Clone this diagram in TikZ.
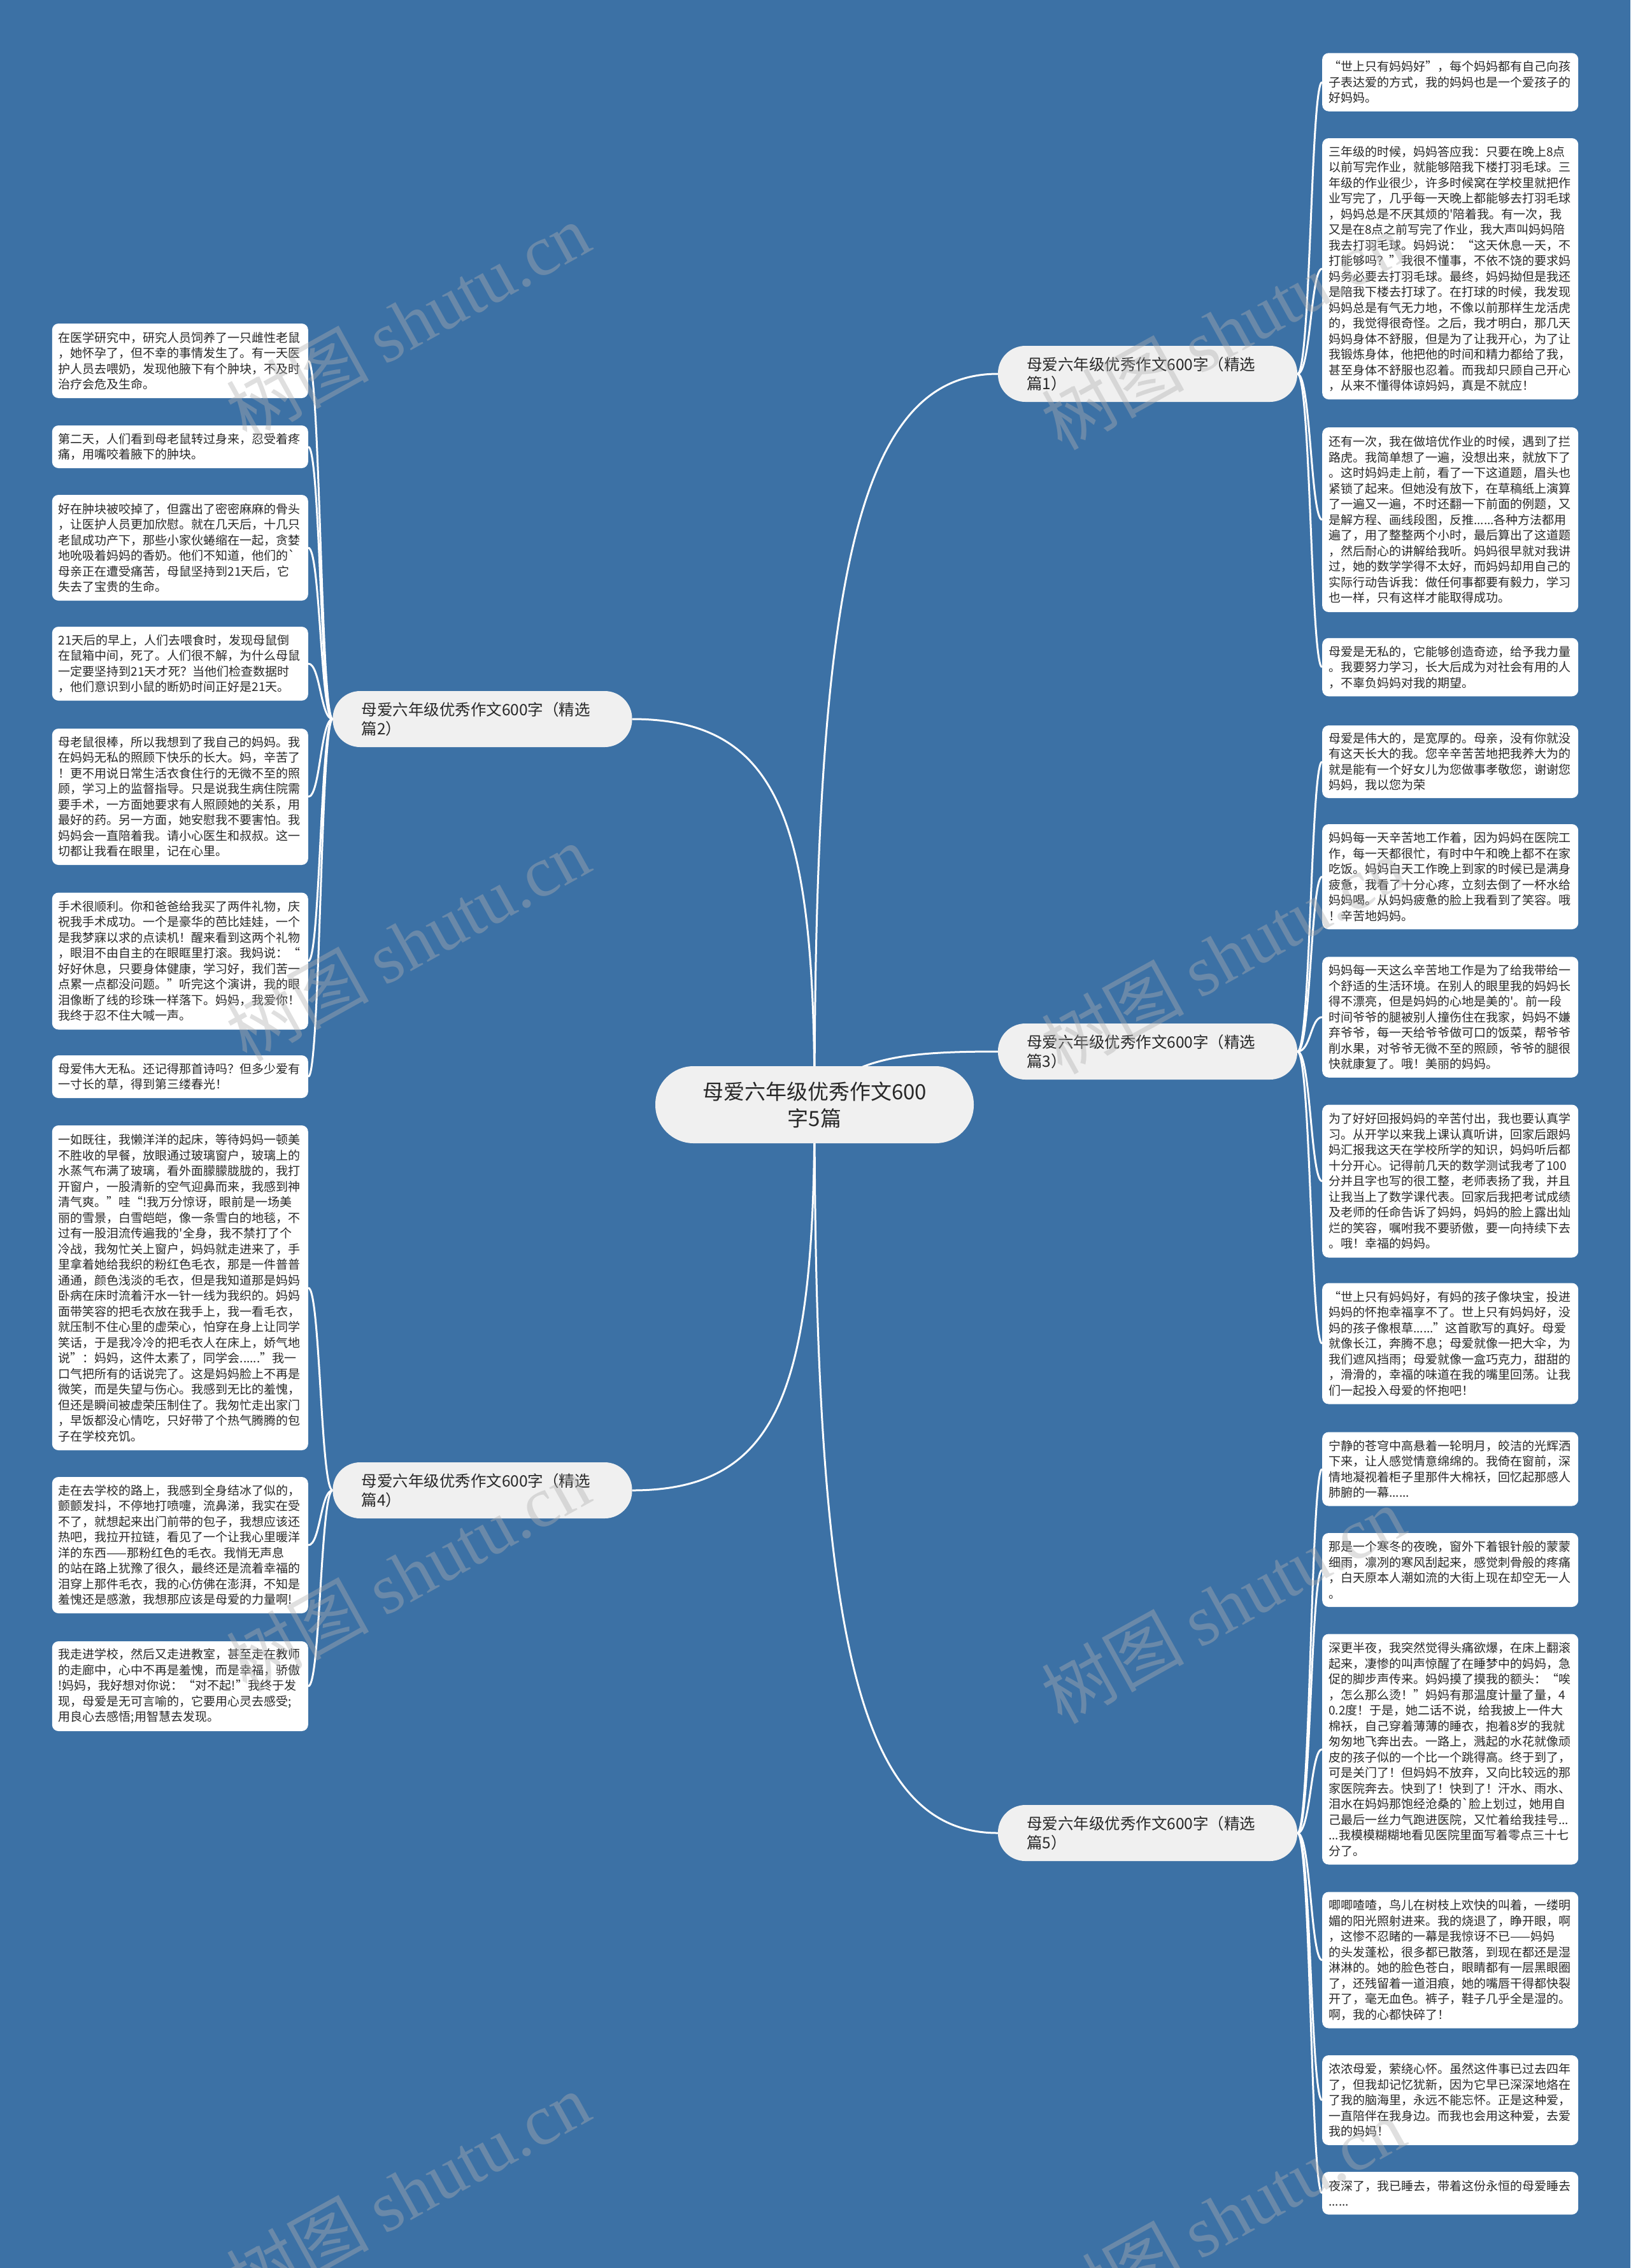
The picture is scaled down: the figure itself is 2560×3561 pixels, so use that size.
\documentclass[tikz,border=0pt]{standalone}
\usepackage{fontspec}
\newfontfamily\cjk{Noto Sans CJK SC}
\newfontfamily\wmserif{Liberation Serif}
\definecolor{bgblue}{RGB}{60,113,165}
\definecolor{nodegray}{RGB}{240,240,240}
\definecolor{txtc}{RGB}{40,40,40}
\definecolor{wmgray}{RGB}{175,175,175}
\pgfdeclarelayer{back}
\pgfdeclarelayer{lines}
\pgfsetlayers{back,lines,main}
\tikzset{
 leaf/.style={fill=white, rounded corners=10pt, text width=382pt, inner xsep=10pt, inner ysep=5pt, align=left, text=txtc, font=\cjk\fontsize{19pt}{24.5pt}\selectfont},
 rleaf/.style={leaf, anchor=west},
 lleaf/.style={leaf, anchor=east},
 branch/.style={fill=nodegray, rounded corners=43pt, text width=380pt, inner xsep=45pt, inner ysep=5pt, minimum height=88pt, align=left, text=txtc, font=\cjk\fontsize{24.5pt}{30pt}\selectfont},
 root/.style={fill=nodegray, rounded corners=60pt, text width=440pt, inner xsep=30pt, minimum height=121pt, align=center, text=txtc, font=\cjk\fontsize{33pt}{42pt}\selectfont},
 conn/.style={draw=white, line width=3pt},
 wm/.style={text=wmgray, opacity=0.4, rotate=29, font=\cjk\fontsize{112pt}{112pt}\selectfont}
}
\begin{document}
\begin{tikzpicture}[x=1pt,y=-1pt]
\useasboundingbox (0,0) rectangle (2560,3561);
\begin{pgfonlayer}{back}
\fill[bgblue] (0,0) rectangle (2560,3561);
\end{pgfonlayer}

% root and branches
\node[root] (c) at (1279,1734.5) {母爱六年级优秀作文600\\字5篇};
\node[branch] (b1) at (1802,587) {母爱六年级优秀作文600字（精选\\篇1）};
\node[branch] (b2) at (757.5,1129) {母爱六年级优秀作文600字（精选\\篇2）};
\node[branch] (b3) at (1802,1651) {母爱六年级优秀作文600字（精选\\篇3）};
\node[branch] (b4) at (757.5,2340) {母爱六年级优秀作文600字（精选\\篇4）};
\node[branch] (b5) at (1802,2878) {母爱六年级优秀作文600字（精选\\篇5）};

% right leaves, part 1
\node[rleaf, minimum height=91.5pt] (r1) at (2076,129) {“世上只有妈妈好”，每个妈妈都有自己向孩\\子表达爱的方式，我的妈妈也是一个爱孩子的\\好妈妈。};
\node[rleaf, minimum height=410pt] (r2) at (2076,422) {三年级的时候，妈妈答应我：只要在晚上8点\\以前写完作业，就能够陪我下楼打羽毛球。三\\年级的作业很少，许多时候窝在学校里就把作\\业写完了，几乎每一天晚上都能够去打羽毛球\\，妈妈总是不厌其烦的'陪着我。有一次，我\\又是在8点之前写完了作业，我大声叫妈妈陪\\我去打羽毛球。妈妈说：“这天休息一天，不\\打能够吗？”我很不懂事，不依不饶的要求妈\\妈务必要去打羽毛球。最终，妈妈拗但是我还\\是陪我下楼去打球了。在打球的时候，我发现\\妈妈总是有气无力地，不像以前那样生龙活虎\\的，我觉得很奇怪。之后，我才明白，那几天\\妈妈身体不舒服，但是为了让我开心，为了让\\我锻炼身体，他把他的时间和精力都给了我，\\甚至身体不舒服也忍着。而我却只顾自己开心\\，从来不懂得体谅妈妈，真是不就应！};
\node[rleaf, minimum height=290pt] (r3) at (2076,816) {还有一次，我在做培优作业的时候，遇到了拦\\路虎。我简单想了一遍，没想出来，就放下了\\。这时妈妈走上前，看了一下这道题，眉头也\\紧锁了起来。但她没有放下，在草稿纸上演算\\了一遍又一遍，不时还翻一下前面的例题，又\\是解方程、画线段图，反推......各种方法都用\\遍了，用了整整两个小时，最后算出了这道题\\，然后耐心的讲解给我听。妈妈很早就对我讲\\过，她的数学学得不太好，而妈妈却用自己的\\实际行动告诉我：做任何事都要有毅力，学习\\也一样，只有这样才能取得成功。};
\node[rleaf, minimum height=91.5pt] (r4) at (2076,1047.5) {母爱是无私的，它能够创造奇迹，给予我力量\\。我要努力学习，长大后成为对社会有用的人\\，不辜负妈妈对我的期望。};

% right leaves, part 3
\node[rleaf, minimum height=114pt] (r5) at (2076,1196) {母爱是伟大的，是宽厚的。母亲，没有你就没\\有这天长大的我。您辛辛苦苦地把我养大为的\\就是能有一个好女儿为您做事孝敬您，谢谢您\\妈妈，我以您为荣};
\node[rleaf, minimum height=165pt] (r6) at (2076,1376.5) {妈妈每一天辛苦地工作着，因为妈妈在医院工\\作，每一天都很忙，有时中午和晚上都不在家\\吃饭。妈妈白天工作晚上到家的时候已是满身\\疲惫，我看了十分心疼，立刻去倒了一杯水给\\妈妈喝。从妈妈疲惫的脸上我看到了笑容。哦\\！辛苦地妈妈。};
\node[rleaf, minimum height=189.5pt] (r7) at (2076,1597) {妈妈每一天这么辛苦地工作是为了给我带给一\\个舒适的生活环境。在别人的眼里我的妈妈长\\得不漂亮，但是妈妈的心地是美的'。前一段\\时间爷爷的腿被别人撞伤住在我家，妈妈不嫌\\弃爷爷，每一天给爷爷做可口的饭菜，帮爷爷\\削水果，对爷爷无微不至的照顾，爷爷的腿很\\快就康复了。哦！美丽的妈妈。};
\node[rleaf, minimum height=240pt] (r8) at (2076,1854.5) {为了好好回报妈妈的辛苦付出，我也要认真学\\习。从开学以来我上课认真听讲，回家后跟妈\\妈汇报我这天在学校所学的知识，妈妈听后都\\十分开心。记得前几天的数学测试我考了100\\分并且字也写的很工整，老师表扬了我，并且\\让我当上了数学课代表。回家后我把考试成绩\\及老师的任命告诉了妈妈，妈妈的脸上露出灿\\烂的笑容，嘱咐我不要骄傲，要一向持续下去\\。哦！幸福的妈妈。};
\node[rleaf, minimum height=190pt] (r9) at (2076,2109.5) {“世上只有妈妈好，有妈的孩子像块宝，投进\\妈妈的怀抱幸福享不了。世上只有妈妈好，没\\妈的孩子像根草......”这首歌写的真好。母爱\\就像长江，奔腾不息；母爱就像一把大伞，为\\我们遮风挡雨；母爱就像一盒巧克力，甜甜的\\，滑滑的，幸福的味道在我的嘴里回荡。让我\\们一起投入母爱的怀抱吧！};

% right leaves, part 5
\node[rleaf, minimum height=116pt] (r10) at (2076,2306.5) {宁静的苍穹中高悬着一轮明月，皎洁的光辉洒\\下来，让人感觉情意绵绵的。我倚在窗前，深\\情地凝视着柜子里那件大棉袄，回忆起那感人\\肺腑的一幕......};
\node[rleaf, minimum height=116pt] (r11) at (2076,2465) {那是一个寒冬的夜晚，窗外下着银针般的蒙蒙\\细雨，凛冽的寒风刮起来，感觉刺骨般的疼痛\\，白天原本人潮如流的大街上现在却空无一人\\。};
\node[rleaf, minimum height=362pt] (r12) at (2076,2746.5) {深更半夜，我突然觉得头痛欲爆，在床上翻滚\\起来，凄惨的叫声惊醒了在睡梦中的妈妈，急\\促的脚步声传来。妈妈摸了摸我的额头：“唉\\，怎么那么烫！”妈妈有那温度计量了量，4\\0.2度！于是，她二话不说，给我披上一件大\\棉袄，自己穿着薄薄的睡衣，抱着8岁的我就\\匆匆地飞奔出去。一路上，溅起的水花就像顽\\皮的孩子似的一个比一个跳得高。终于到了，\\可是关门了！但妈妈不放弃，又向比较远的那\\家医院奔去。快到了！快到了！汗水、雨水、\\泪水在妈妈那饱经沧桑的`脸上划过，她用自\\己最后一丝力气跑进医院，又忙着给我挂号...\\...我模模糊糊地看见医院里面写着零点三十七\\分了。};
\node[rleaf, minimum height=214pt] (r13) at (2076,3077.5) {唧唧喳喳，鸟儿在树枝上欢快的叫着，一缕明\\媚的阳光照射进来。我的烧退了，睁开眼，啊\\，这惨不忍睹的一幕是我惊讶不已——妈妈\\的头发蓬松，很多都已散落，到现在都还是湿\\淋淋的。她的脸色苍白，眼睛都有一层黑眼圈\\了，还残留着一道泪痕，她的嘴唇干得都快裂\\开了，毫无血色。裤子，鞋子几乎全是湿的。\\啊，我的心都快碎了！};
\node[rleaf, minimum height=141pt] (r14) at (2076,3297.5) {浓浓母爱，萦绕心怀。虽然这件事已过去四年\\了，但我却记忆犹新，因为它早已深深地烙在\\了我的脑海里，永远不能忘怀。正是这种爱，\\一直陪伴在我身边。而我也会用这种爱，去爱\\我的妈妈！};
\node[rleaf, minimum height=67pt] (r15) at (2076,3443.5) {夜深了，我已睡去，带着这份永恒的母爱睡去\\......};

% left leaves, part 2
\node[lleaf, minimum height=117pt] (l1) at (484,566.5) {在医学研究中，研究人员饲养了一只雌性老鼠\\，她怀孕了，但不幸的事情发生了。有一天医\\护人员去喂奶，发现他腋下有个肿块，不及时\\治疗会危及生命。};
\node[lleaf, minimum height=67pt] (l2) at (484,701.5) {第二天，人们看到母老鼠转过身来，忍受着疼\\痛，用嘴咬着腋下的肿块。};
\node[lleaf, minimum height=166pt] (l3) at (484,860) {好在肿块被咬掉了，但露出了密密麻麻的骨头\\，让医护人员更加欣慰。就在几天后，十几只\\老鼠成功产下，那些小家伙蜷缩在一起，贪婪\\地吮吸着妈妈的香奶。他们不知道，他们的`\\母亲正在遭受痛苦，母鼠坚持到21天后，它\\失去了宝贵的生命。};
\node[lleaf, minimum height=116pt] (l4) at (484,1042) {21天后的早上，人们去喂食时，发现母鼠倒\\在鼠箱中间，死了。人们很不解，为什么母鼠\\一定要坚持到21天才死？当他们检查数据时\\，他们意识到小鼠的断奶时间正好是21天。};
\node[lleaf, minimum height=214pt] (l5) at (484,1251) {母老鼠很棒，所以我想到了我自己的妈妈。我\\在妈妈无私的照顾下快乐的长大。妈，辛苦了\\！更不用说日常生活衣食住行的无微不至的照\\顾，学习上的监督指导。只是说我生病住院需\\要手术，一方面她要求有人照顾她的关系，用\\最好的药。另一方面，她安慰我不要害怕。我\\妈妈会一直陪着我。请小心医生和叔叔。这一\\切都让我看在眼里，记在心里。};
\node[lleaf, minimum height=215pt] (l6) at (484,1509) {手术很顺利。你和爸爸给我买了两件礼物，庆\\祝我手术成功。一个是豪华的芭比娃娃，一个\\是我梦寐以求的点读机！醒来看到这两个礼物\\，眼泪不由自主的在眼眶里打滚。我妈说：“\\好好休息，只要身体健康，学习好，我们苦一\\点累一点都没问题。”听完这个演讲，我的眼\\泪像断了线的珍珠一样落下。妈妈，我爱你！\\我终于忍不住大喊一声。};
\node[lleaf, minimum height=67pt] (l7) at (484,1690.5) {母爱伟大无私。还记得那首诗吗？但多少爱有\\一寸长的草，得到第三缕春光！};

% left leaves, part 4
\node[lleaf, minimum height=510pt] (l8) at (484,2022) {一如既往，我懒洋洋的起床，等待妈妈一顿美\\不胜收的早餐，放眼通过玻璃窗户，玻璃上的\\水蒸气布满了玻璃，看外面朦朦胧胧的，我打\\开窗户，一股清新的空气迎鼻而来，我感到神\\清气爽。”哇“!我万分惊讶，眼前是一场美\\丽的雪景，白雪皑皑，像一条雪白的地毯，不\\过有一股泪流传遍我的'全身，我不禁打了个\\冷战，我匆忙关上窗户，妈妈就走进来了，手\\里拿着她给我织的粉红色毛衣，那是一件普普\\通通，颜色浅淡的毛衣，但是我知道那是妈妈\\卧病在床时流着汗水一针一线为我织的。妈妈\\面带笑容的把毛衣放在我手上，我一看毛衣，\\就压制不住心里的虚荣心，怕穿在身上让同学\\笑话，于是我冷冷的把毛衣人在床上，娇气地\\说”：妈妈，这件太素了，同学会......”我一\\口气把所有的话说完了。这是妈妈脸上不再是\\微笑，而是失望与伤心。我感到无比的羞愧，\\但还是瞬间被虚荣压制住了。我匆忙走出家门\\，早饭都没心情吃，只好带了个热气腾腾的包\\子在学校充饥。};
\node[lleaf, minimum height=214pt] (l9) at (484,2426) {走在去学校的路上，我感到全身结冰了似的，\\颤颤发抖，不停地打喷嚏，流鼻涕，我实在受\\不了，就想起来出门前带的包子，我想应该还\\热吧，我拉开拉链，看见了一个让我心里暖洋\\洋的东西——那粉红色的毛衣。我悄无声息\\的站在路上犹豫了很久，最终还是流着幸福的\\泪穿上那件毛衣，我的心仿佛在澎湃，不知是\\羞愧还是感激，我想那应该是母爱的力量啊!};
\node[lleaf, minimum height=141pt] (l10) at (484,2647.5) {我走进学校，然后又走进教室，甚至走在教师\\的走廊中，心中不再是羞愧，而是幸福，骄傲\\!妈妈，我好想对你说：“对不起!”我终于发\\现，母爱是无可言喻的，它要用心灵去感受;\\用良心去感悟;用智慧去发现。};

% connectors
\begin{pgfonlayer}{lines}
\draw[conn] (c.center) .. controls (1279,900) and (1350,587) .. (b1.west);
\draw[conn] (c.center) .. controls (1330,1660) and (1420,1651) .. (b3.west);
\draw[conn] (c.center) .. controls (1279,2580) and (1350,2878) .. (b5.west);
\draw[conn] (c.center) .. controls (1279,1300) and (1230,1129) .. (b2.east);
\draw[conn] (c.center) .. controls (1279,2170) and (1230,2340) .. (b4.east);
\foreach \r in {r1,r2,r3,r4}
  \draw[conn] (b1.east) .. controls +(21,0) and +(-18,0) .. (\r.west);
\foreach \r in {r5,r6,r7,r8,r9}
  \draw[conn] (b3.east) .. controls +(21,0) and +(-18,0) .. (\r.west);
\foreach \r in {r10,r11,r12,r13,r14,r15}
  \draw[conn] (b5.east) .. controls +(21,0) and +(-18,0) .. (\r.west);
\foreach \l in {l1,l2,l3,l4,l5,l6,l7}
  \draw[conn] (b2.west) .. controls +(-19,0) and +(19,0) .. (\l.east);
\foreach \l in {l8,l9,l10}
  \draw[conn] (b4.west) .. controls +(-19,0) and +(19,0) .. (\l.east);
\end{pgfonlayer}

% watermarks
\node[wm] (wm1) at (640,505) {树图 {\wmserif shutu.cn}};
\node[wm] (wm2) at (1920,520) {树图 {\wmserif shutu.cn}};
\node[wm] (wm3) at (640,1480) {树图 {\wmserif shutu.cn}};
\node[wm] (wm4) at (1920,1500) {树图 {\wmserif shutu.cn}};
\node[wm] (wm5) at (640,2470) {树图 {\wmserif shutu.cn}};
\node[wm] (wm6) at (1920,2520) {树图 {\wmserif shutu.cn}};
\node[wm] (wm7) at (640,3440) {树图 {\wmserif shutu.cn}};
\node[wm] (wm8) at (1920,3480) {树图 {\wmserif shutu.cn}};
\end{tikzpicture}
\end{document}
